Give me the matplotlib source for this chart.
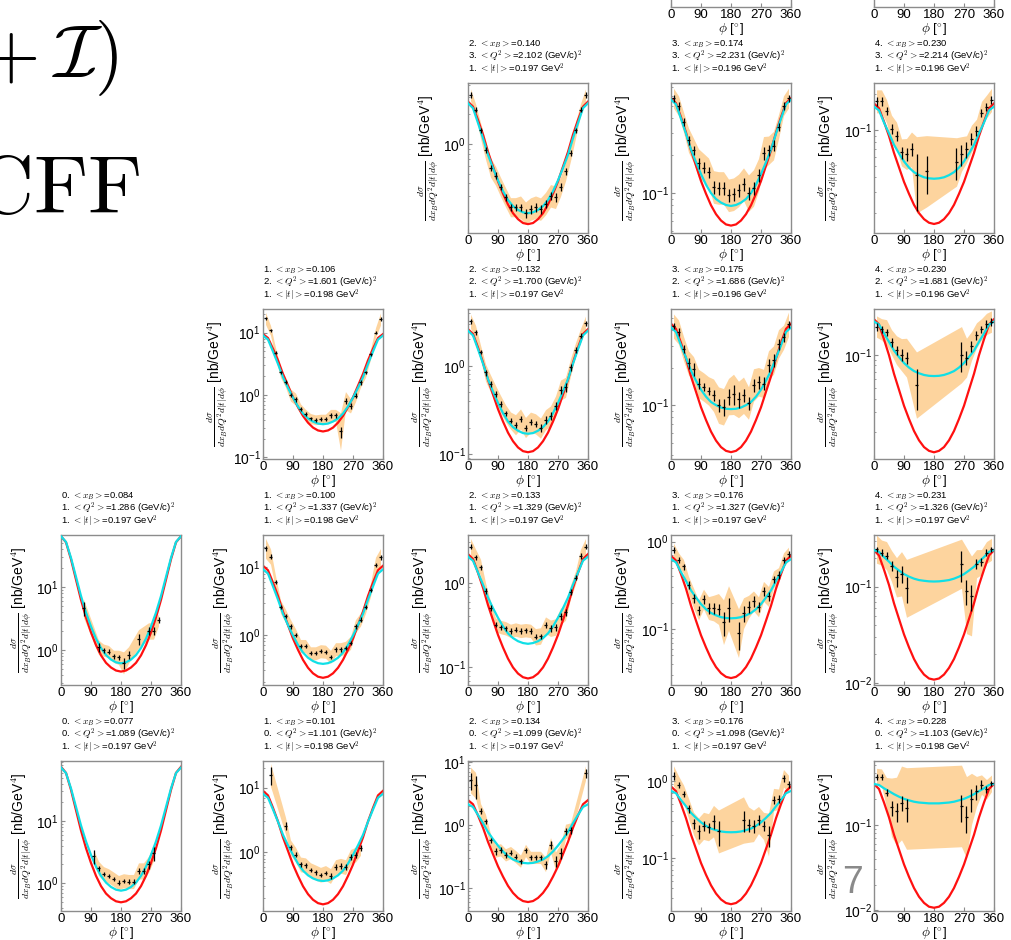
import matplotlib
matplotlib.use("Agg")
import matplotlib.pyplot as plt
from matplotlib.ticker import NullFormatter

plt.rcParams['font.family'] = ['Liberation Sans', 'DejaVu Sans']
plt.rcParams['mathtext.fontset'] = 'cm'

# model curves are read every 15 degrees
curve_phi = [0, 15, 30, 45, 60, 75, 90, 105, 120, 135, 150, 165, 180,
             195, 210, 225, 240, 255, 270, 285, 300, 315, 330, 345, 360]
phi_all = [7.5, 22.5, 37.5, 52.5, 67.5, 82.5, 97.5, 112.5, 127.5, 142.5, 157.5, 172.5,
           187.5, 202.5, 217.5, 232.5, 247.5, 262.5, 277.5, 292.5, 307.5, 322.5, 337.5, 352.5]

# ---- row 0 (Q2 bin 3) ----
lab_r0c2 = ("2", "0.140", "3", "2.102", "1", "0.197")
ylim_r0c2 = (0.126, 4.17)
bh_r0c2 = [2.7, 2.40, 1.76, 1.25, 0.835, 0.593, 0.42, 0.316, 0.245, 0.2, 0.174, 0.159, 0.155,
           0.159, 0.174, 0.2, 0.245, 0.316, 0.42, 0.593, 0.835, 1.25, 1.76, 2.40, 2.7]
fit_r0c2 = [2.6, 2.32, 1.64, 1.15, 0.78, 0.573, 0.43, 0.334, 0.272, 0.236, 0.216, 0.204, 0.2,
            0.204, 0.216, 0.236, 0.272, 0.334, 0.43, 0.573, 0.78, 1.15, 1.64, 2.32, 2.6]
phi_r0c2 = phi_all
y_r0c2 = [3.16, 2.24, 1.38, 0.88, 0.58, 0.48, 0.37, 0.29, 0.23, 0.23, 0.23, 0.2,
          0.22, 0.23, 0.22, 0.25, 0.30, 0.29, 0.37, 0.53, 0.81, 1.38, 2.24, 3.16]
err_r0c2 = [.06, .06, .06, .07, .07, .08, .08, .08, .08, .08, .08, .1,
            .1, .1, .1, .1, .1, .1, .1, .08, .07, .06, .06, .06]
band_r0c2 = [1.15, 1.15, 1.2, 1.25, 1.25, 1.25, 1.25, 1.25, 1.25, 1.25, 1.3, 1.3,
             1.3, 1.3, 1.3, 1.3, 1.3, 1.3, 1.25, 1.25, 1.2, 1.2, 1.15, 1.15]

lab_r0c3 = ("3", "0.174", "3", "2.231", "1", "0.196")
ylim_r0c3 = (0.048, 0.76)
bh_r0c3 = [0.575, 0.524, 0.405, 0.305, 0.22, 0.166, 0.125, 0.0989, 0.08, 0.0679, 0.0604, 0.0562, 0.055,
           0.0562, 0.0604, 0.0679, 0.08, 0.0989, 0.125, 0.166, 0.22, 0.305, 0.405, 0.524, 0.575]
fit_r0c3 = [0.56, 0.513, 0.394, 0.299, 0.223, 0.177, 0.142, 0.117, 0.1, 0.0897, 0.084, 0.0804, 0.079,
            0.0804, 0.084, 0.0897, 0.1, 0.117, 0.142, 0.177, 0.223, 0.299, 0.394, 0.513, 0.56]
phi_r0c3 = phi_all
y_r0c3 = [0.575, 0.50, 0.37, 0.265, 0.22, 0.174, 0.16, 0.147, 0.112, 0.11, 0.11, 0.096,
          0.098, 0.105, 0.118, 0.10, 0.11, 0.14, 0.21, 0.22, 0.24, 0.34, 0.5, 0.575]
err_r0c3 = [.06, .07, .07, .08, .08, .1, .1, .1, .12, .12, .12, .12,
            .12, .12, .12, .12, .12, .12, .12, .1, .1, .08, .07, .06]
band_r0c3 = [1.2, 1.2, 1.2, 1.25, 1.25, 1.3, 1.3, 1.3, 1.35, 1.35, 1.35, 1.35,
             1.35, 1.35, 1.35, 1.4, 1.4, 1.35, 1.35, 1.3, 1.3, 1.25, 1.2, 1.2]

lab_r0c4 = ("4", "0.230", "3", "2.214", "1", "0.196")
ylim_r0c4 = (0.0136, 0.25)
bh_r0c4 = [0.168, 0.153, 0.118, 0.0893, 0.0644, 0.0486, 0.0367, 0.0291, 0.0235, 0.02, 0.0178, 0.0166, 0.0162,
           0.0166, 0.0178, 0.02, 0.0235, 0.0291, 0.0367, 0.0486, 0.0644, 0.0893, 0.118, 0.153, 0.168]
fit_r0c4 = [0.158, 0.147, 0.116, 0.0942, 0.0754, 0.0637, 0.0546, 0.0484, 0.0443, 0.0418, 0.0401, 0.0393, 0.039,
            0.0393, 0.0401, 0.0418, 0.0443, 0.0484, 0.0546, 0.0637, 0.0754, 0.0942, 0.116, 0.147, 0.158]
phi_r0c4 = [7.5, 22.5, 37.5, 52.5, 67.5, 82.5, 97.5, 112.5, 127.5, 157.5,
            247.5, 262.5, 277.5, 292.5, 307.5, 322.5, 337.5, 352.5]
y_r0c4 = [0.175, 0.175, 0.145, 0.103, 0.09, 0.065, 0.063, 0.069, 0.042, 0.045,
          0.054, 0.063, 0.069, 0.085, 0.099, 0.14, 0.158, 0.18]
err_r0c4 = [.08, .08, .08, .1, .1, .12, .12, .12, .5, .35, .3, .2, .15, .12, .1, .08, .08, .08]
band_r0c4 = [1.25, 1.25, 1.25, 1.3, 1.3, 1.3, 1.35, 1.4, 2.1, 2.0, 1.6, 1.4, 1.3, 1.3, 1.25, 1.25, 1.25, 1.25]

# ---- row 1 (Q2 bin 2) ----
lab_r1c1 = ("1", "0.106", "2", "1.601", "1", "0.198")
ylim_r1c1 = (0.094, 24)
bh_r1c1 = [9.5, 8.22, 5.54, 3.60, 2.17, 1.41, 0.916, 0.64, 0.462, 0.36, 0.3, 0.27, 0.26,
           0.27, 0.3, 0.36, 0.462, 0.64, 0.916, 1.41, 2.17, 3.60, 5.54, 8.22, 9.5]
fit_r1c1 = [9.0, 7.76, 4.99, 3.15, 1.93, 1.30, 0.908, 0.655, 0.504, 0.42, 0.375, 0.348, 0.34,
            0.348, 0.375, 0.42, 0.504, 0.655, 0.908, 1.30, 1.93, 3.15, 4.99, 7.76, 9.0]
phi_r1c1 = phi_all
y_r1c1 = [17, 10.9, 4.8, 2.3, 1.6, 1.0, 0.86, 0.6, 0.49, 0.42, 0.40, 0.41,
          0.41, 0.47, 0.47, 0.26, 0.81, 0.67, 0.98, 1.6, 2.3, 4.5, 10, 16.6]
err_r1c1 = [.07, .06, .06, .06, .07, .08, .1, .08, .07, .07, .07, .07,
            .07, .08, .1, .2, .12, .1, .08, .08, .07, .06, .06, .07]
band_r1c1 = [1.25, 1.2, 1.2, 1.2, 1.2, 1.25, 1.25, 1.2, 1.2, 1.2, 1.2, 1.2,
             1.2, 1.25, 1.25, 2.0, 1.4, 1.3, 1.25, 1.2, 1.2, 1.2, 1.2, 1.25]

lab_r1c2 = ("2", "0.132", "2", "1.700", "1", "0.197")
ylim_r1c2 = (0.088, 4.4)
bh_r1c2 = [2.6, 2.29, 1.61, 1.09, 0.697, 0.474, 0.323, 0.234, 0.175, 0.14, 0.119, 0.108, 0.105,
           0.108, 0.119, 0.14, 0.175, 0.234, 0.323, 0.474, 0.697, 1.09, 1.61, 2.29, 2.6]
fit_r1c2 = [2.5, 2.21, 1.54, 1.06, 0.706, 0.512, 0.38, 0.291, 0.234, 0.202, 0.184, 0.173, 0.17,
            0.173, 0.184, 0.202, 0.234, 0.291, 0.38, 0.512, 0.706, 1.06, 1.54, 2.21, 2.5]
phi_r1c2 = phi_all
y_r1c2 = [3.2, 2.4, 1.43, 0.84, 0.63, 0.48, 0.37, 0.29, 0.24, 0.215, 0.25, 0.2,
          0.23, 0.22, 0.197, 0.245, 0.27, 0.35, 0.53, 0.57, 0.96, 1.52, 2.2, 3.04]
err_r1c2 = [.06, .06, .06, .08, .08, .08, .07, .07, .07, .07, .08, .08,
            .08, .08, .1, .1, .1, .1, .1, .12, .08, .07, .06, .06]
band_r1c2 = [1.2, 1.2, 1.2, 1.25, 1.25, 1.25, 1.25, 1.25, 1.25, 1.3, 1.3, 1.3,
             1.3, 1.3, 1.3, 1.3, 1.3, 1.3, 1.3, 1.3, 1.25, 1.2, 1.2, 1.2]

lab_r1c3 = ("3", "0.175", "2", "1.686", "1", "0.196")
ylim_r1c3 = (0.037, 0.59)
bh_r1c3 = [0.45, 0.409, 0.315, 0.237, 0.17, 0.128, 0.0962, 0.076, 0.0614, 0.052, 0.0461, 0.043, 0.042,
           0.043, 0.0461, 0.052, 0.0614, 0.076, 0.0962, 0.128, 0.17, 0.237, 0.315, 0.409, 0.45]
fit_r1c3 = [0.42, 0.386, 0.301, 0.24, 0.189, 0.157, 0.133, 0.117, 0.106, 0.1, 0.0957, 0.0935, 0.093,
            0.0935, 0.0957, 0.1, 0.106, 0.117, 0.133, 0.157, 0.189, 0.24, 0.301, 0.386, 0.42]
phi_r1c3 = phi_all
y_r1c3 = [0.43, 0.386, 0.284, 0.218, 0.196, 0.149, 0.14, 0.13, 0.12, 0.1, 0.097, 0.117,
          0.122, 0.111, 0.12, 0.104, 0.145, 0.154, 0.149, 0.21, 0.23, 0.31, 0.35, 0.445]
err_r1c3 = [.06, .07, .07, .1, .12, .1, .08, .08, .1, .12, .15, .15,
            .18, .15, .12, .12, .12, .12, .12, .12, .12, .1, .08, .06]
band_r1c3 = [1.25, 1.25, 1.25, 1.25, 1.25, 1.3, 1.3, 1.3, 1.35, 1.4, 1.4, 1.4,
             1.45, 1.4, 1.4, 1.35, 1.35, 1.3, 1.3, 1.3, 1.3, 1.3, 1.25, 1.25]

lab_r1c4 = ("4", "0.230", "2", "1.681", "1", "0.196")
ylim_r1c4 = (0.0113, 0.26)
bh_r1c4 = [0.21, 0.188, 0.138, 0.099, 0.0671, 0.0481, 0.0344, 0.0261, 0.0203, 0.0167, 0.0145, 0.0134, 0.013,
           0.0134, 0.0145, 0.0167, 0.0203, 0.0261, 0.0344, 0.0481, 0.0671, 0.099, 0.138, 0.188, 0.21]
fit_r1c4 = [0.2, 0.188, 0.156, 0.131, 0.109, 0.0953, 0.0841, 0.0764, 0.071, 0.0678, 0.0655, 0.0643, 0.064,
            0.0643, 0.0655, 0.0678, 0.071, 0.0764, 0.0841, 0.0953, 0.109, 0.131, 0.156, 0.188, 0.2]
phi_r1c4 = [7.5, 22.5, 37.5, 52.5, 67.5, 82.5, 97.5, 127.5,
            262.5, 277.5, 292.5, 307.5, 322.5, 337.5, 352.5]
y_r1c4 = [0.18, 0.17, 0.16, 0.13, 0.11, 0.10, 0.094, 0.053,
          0.1, 0.094, 0.12, 0.15, 0.17, 0.19, 0.2]
err_r1c4 = [.08, .08, .08, .1, .1, .12, .12, .4, .3, .15, .12, .1, .08, .08, .08]
band_r1c4 = [1.25, 1.25, 1.3, 1.3, 1.35, 1.4, 1.5, 2.0, 1.8, 1.5, 1.35, 1.3, 1.25, 1.25, 1.25]

# ---- row 2 (Q2 bin 1) ----
lab_r2c0 = ("0", "0.084", "1", "1.286", "1", "0.197")
ylim_r2c0 = (0.275, 68)
bh_r2c0 = [65, 52.0, 27.9, 13.2, 6.28, 3.29, 1.9, 1.19, 0.817, 0.621, 0.523, 0.468, 0.45,
           0.468, 0.523, 0.621, 0.817, 1.19, 1.9, 3.29, 6.28, 13.2, 27.9, 52.0, 65]
fit_r2c0 = [65, 52.7, 29.4, 14.6, 7.24, 3.94, 2.36, 1.51, 1.07, 0.826, 0.70, 0.632, 0.61,
            0.632, 0.70, 0.826, 1.07, 1.51, 2.36, 3.94, 7.24, 14.6, 29.4, 52.7, 65]
phi_r2c0 = [67.5, 112.5, 127.5, 142.5, 157.5, 172.5, 187.5, 202.5, 232.5, 262.5, 277.5, 292.5]
y_r2c0 = [4.6, 1.1, 0.99, 0.94, 0.79, 0.76, 0.62, 0.83, 1.5, 2.0, 2.0, 3.0]
err_r2c0 = [.25, .15, .1, .1, .1, .1, .2, .15, .2, .15, .15, .12]
band_r2c0 = [1.4, 1.3, 1.25, 1.25, 1.25, 1.3, 1.5, 1.35, 1.4, 1.35, 1.35, 1.25]

lab_r2c1 = ("1", "0.100", "1", "1.337", "1", "0.198")
ylim_r2c1 = (0.18, 30)
bh_r2c1 = [10.5, 9.02, 5.92, 3.74, 2.19, 1.39, 0.877, 0.598, 0.424, 0.324, 0.268, 0.239, 0.23,
           0.239, 0.268, 0.324, 0.424, 0.598, 0.877, 1.39, 2.19, 3.74, 5.92, 9.02, 10.5]
fit_r2c1 = [9.3, 8.04, 5.2, 3.31, 2.04, 1.39, 0.973, 0.705, 0.545, 0.456, 0.407, 0.379, 0.37,
            0.379, 0.407, 0.456, 0.545, 0.705, 0.973, 1.39, 2.04, 3.31, 5.2, 8.04, 9.3]
phi_r2c1 = phi_all
y_r2c1 = [19, 14.4, 6, 2.6, 1.9, 1.34, 0.98, 0.68, 0.68, 0.53, 0.53, 0.57,
          0.56, 0.47, 0.61, 0.61, 0.64, 0.76, 1.34, 1.68, 2.6, 4.6, 10.8, 14]
err_r2c1 = [.1, .08, .06, .07, .08, .08, .07, .07, .07, .07, .07, .07,
            .07, .07, .08, .08, .08, .08, .08, .08, .07, .07, .08, .1]
band_r2c1 = [1.4, 1.3, 1.25, 1.25, 1.25, 1.25, 1.25, 1.25, 1.25, 1.25, 1.25, 1.25,
             1.25, 1.25, 1.25, 1.25, 1.25, 1.25, 1.25, 1.25, 1.25, 1.25, 1.3, 1.35]

lab_r2c2 = ("2", "0.133", "1", "1.329", "1", "0.197")
ylim_r2c2 = (0.062, 3.66)
bh_r2c2 = [2.18, 1.90, 1.31, 0.873, 0.545, 0.362, 0.242, 0.172, 0.127, 0.1, 0.0847, 0.0766, 0.074,
           0.0766, 0.0847, 0.1, 0.127, 0.172, 0.242, 0.362, 0.545, 0.873, 1.31, 1.90, 2.18]
fit_r2c2 = [2.03, 1.82, 1.32, 0.95, 0.667, 0.501, 0.386, 0.305, 0.252, 0.222, 0.204, 0.194, 0.19,
            0.194, 0.204, 0.222, 0.252, 0.305, 0.386, 0.501, 0.667, 0.95, 1.32, 1.82, 2.03]
phi_r2c2 = phi_all
y_r2c2 = [2.66, 2.0, 1.52, 0.8, 0.5, 0.32, 0.30, 0.29, 0.27, 0.28, 0.27, 0.275,
          0.27, 0.23, 0.235, 0.316, 0.29, 0.30, 0.40, 0.45, 0.78, 1.15, 2.07, 2.66]
err_r2c2 = [.07, .07, .07, .08, .08, .07, .07, .07, .07, .07, .07, .07,
            .07, .07, .07, .08, .1, .1, .1, .1, .08, .07, .07, .07]
band_r2c2 = [1.25, 1.25, 1.25, 1.25, 1.2, 1.2, 1.2, 1.2, 1.2, 1.2, 1.2, 1.2,
             1.2, 1.25, 1.25, 1.25, 1.25, 1.25, 1.25, 1.25, 1.2, 1.2, 1.2, 1.25]

lab_r2c3 = ("3", "0.176", "1", "1.327", "1", "0.197")
ylim_r2c3 = (0.023, 1.19)
bh_r2c3 = [0.69, 0.607, 0.426, 0.29, 0.185, 0.125, 0.0851, 0.0618, 0.0462, 0.0369, 0.0314, 0.0285, 0.0276,
           0.0285, 0.0314, 0.0369, 0.0462, 0.0618, 0.0851, 0.125, 0.185, 0.29, 0.426, 0.607, 0.69]
fit_r2c3 = [0.63, 0.579, 0.448, 0.355, 0.277, 0.23, 0.193, 0.169, 0.153, 0.144, 0.137, 0.134, 0.133,
            0.134, 0.137, 0.144, 0.153, 0.169, 0.193, 0.23, 0.277, 0.355, 0.448, 0.579, 0.63]
phi_r2c3 = [7.5, 22.5, 37.5, 52.5, 67.5, 82.5, 97.5, 112.5, 127.5, 142.5, 157.5, 172.5,
            202.5, 217.5, 232.5, 247.5, 262.5, 277.5, 292.5, 307.5, 322.5, 337.5, 352.5]
y_r2c3 = [0.80, 0.62, 0.52, 0.32, 0.226, 0.166, 0.22, 0.174, 0.174, 0.17, 0.12, 0.174,
          0.09, 0.152, 0.18, 0.21, 0.18, 0.27, 0.236, 0.37, 0.42, 0.62, 0.72]
err_r2c3 = [.08, .08, .08, .1, .12, .12, .12, .15, .15, .15, .3, .3,
            .35, .2, .15, .15, .12, .12, .12, .1, .1, .08, .08]
band_r2c3 = [1.2, 1.2, 1.2, 1.25, 1.3, 1.3, 1.3, 1.35, 1.4, 1.5, 1.8, 1.8,
             1.9, 1.5, 1.35, 1.3, 1.3, 1.3, 1.3, 1.25, 1.2, 1.2, 1.2]

lab_r2c4 = ("4", "0.231", "1", "1.326", "1", "0.197")
ylim_r2c4 = (0.0095, 0.344)
bh_r2c4 = [0.239, 0.211, 0.15, 0.104, 0.0671, 0.0462, 0.0319, 0.0234, 0.0177, 0.0143, 0.0122, 0.0111, 0.0108,
           0.0111, 0.0122, 0.0143, 0.0177, 0.0234, 0.0319, 0.0462, 0.0671, 0.104, 0.15, 0.211, 0.239]
fit_r2c4 = [0.24, 0.23, 0.203, 0.182, 0.161, 0.147, 0.135, 0.127, 0.121, 0.117, 0.115, 0.1135, 0.113,
            0.1135, 0.115, 0.117, 0.121, 0.127, 0.135, 0.147, 0.161, 0.182, 0.203, 0.23, 0.24]
phi_r2c4 = [7.5, 22.5, 37.5, 52.5, 67.5, 82.5, 97.5,
            262.5, 277.5, 292.5, 307.5, 322.5, 337.5, 352.5]
y_r2c4 = [0.245, 0.226, 0.21, 0.164, 0.125, 0.136, 0.096,
          0.173, 0.091, 0.08, 0.173, 0.18, 0.226, 0.244]
err_r2c4 = [.06, .08, .08, .12, .2, .2, .3, .35, .3, .3, .12, .1, .08, .06]
band_r2c4 = [1.4, 1.35, 1.4, 1.45, 1.6, 1.7, 2.0, 1.8, 2.8, 2.6, 1.4, 1.35, 1.3, 1.3]

# ---- row 3 (Q2 bin 0) ----
lab_r3c0 = ("0", "0.077", "0", "1.089", "1", "0.197")
ylim_r3c0 = (0.355, 93)
bh_r3c0 = [75, 59.8, 31.9, 15.0, 7.05, 3.66, 2.11, 1.31, 0.895, 0.679, 0.57, 0.509, 0.49,
           0.509, 0.57, 0.679, 0.895, 1.31, 2.11, 3.66, 7.05, 15.0, 31.9, 59.8, 75]
fit_r3c0 = [73, 59.4, 33.6, 16.9, 8.51, 4.70, 2.84, 1.84, 1.31, 1.02, 0.867, 0.783, 0.755,
            0.783, 0.867, 1.02, 1.31, 1.84, 2.84, 4.70, 8.51, 16.9, 33.6, 59.4, 73]
phi_r3c0 = [97.5, 112.5, 127.5, 142.5, 157.5, 172.5, 187.5, 202.5, 217.5, 232.5, 247.5, 262.5, 277.5]
y_r3c0 = [2.7, 1.73, 1.42, 1.31, 1.16, 1.02, 1.09, 1.06, 1.06, 1.57, 1.57, 2.0, 3.07]
err_r3c0 = [.25, .1, .08, .08, .08, .08, .08, .08, .08, .12, .12, .15, .25]
band_r3c0 = [1.3, 1.3, 1.3, 1.3, 1.3, 1.3, 1.3, 1.3, 1.3, 1.35, 1.35, 1.35, 1.35]

lab_r3c1 = ("1", "0.101", "0", "1.101", "1", "0.198")
ylim_r3c1 = (0.124, 25.7)
bh_r3c1 = [8.9, 7.57, 4.85, 2.99, 1.70, 1.05, 0.646, 0.431, 0.299, 0.226, 0.185, 0.164, 0.157,
           0.164, 0.185, 0.226, 0.299, 0.431, 0.646, 1.05, 1.70, 2.99, 4.85, 7.57, 8.9]
fit_r3c1 = [8.0, 6.95, 4.58, 2.96, 1.86, 1.28, 0.912, 0.668, 0.522, 0.441, 0.395, 0.369, 0.36,
            0.369, 0.395, 0.441, 0.522, 0.668, 0.912, 1.28, 1.86, 2.96, 4.58, 6.95, 8.0]
phi_r3c1 = [22.5, 67.5, 82.5, 97.5, 112.5, 127.5, 142.5, 157.5, 172.5,
            187.5, 202.5, 217.5, 232.5, 247.5, 262.5, 277.5, 292.5]
y_r3c1 = [15.7, 2.57, 1.19, 0.92, 0.65, 0.63, 0.53, 0.49, 0.45,
          0.48, 0.43, 0.59, 0.62, 0.59, 0.85, 0.92, 1.17]
err_r3c1 = [.3, .15, .1, .08, .08, .08, .08, .08, .08, .08, .1, .1, .1, .1, .12, .1, .1]
band_r3c1 = [1.5, 1.35, 1.3, 1.3, 1.3, 1.3, 1.3, 1.3, 1.3, 1.3, 1.3, 1.3, 1.3, 1.3, 1.3, 1.3, 1.3]

lab_r3c2 = ("2", "0.134", "0", "1.099", "1", "0.197")
ylim_r3c2 = (0.044, 10.4)
bh_r3c2 = [2.5, 2.15, 1.43, 0.916, 0.546, 0.349, 0.224, 0.154, 0.11, 0.0851, 0.0708, 0.0632, 0.061,
           0.0632, 0.0708, 0.0851, 0.11, 0.154, 0.224, 0.349, 0.546, 0.916, 1.43, 2.15, 2.5]
fit_r3c2 = [2.15, 1.95, 1.46, 1.08, 0.782, 0.604, 0.477, 0.385, 0.324, 0.288, 0.267, 0.254, 0.25,
            0.254, 0.267, 0.288, 0.324, 0.385, 0.477, 0.604, 0.782, 1.08, 1.46, 1.95, 2.15]
phi_r3c2 = [7.5, 22.5, 37.5, 52.5, 67.5, 82.5, 97.5, 112.5, 127.5, 142.5, 157.5, 172.5,
            187.5, 202.5, 217.5, 232.5, 247.5, 262.5, 277.5, 292.5, 307.5, 352.5]
y_r3c2 = [5.2, 4.3, 1.7, 1.15, 0.58, 0.39, 0.41, 0.34, 0.37, 0.32, 0.27, 0.40,
          0.31, 0.31, 0.31, 0.24, 0.49, 0.27, 0.36, 0.8, 0.84, 6.7]
err_r3c2 = [.3, .4, .1, .1, .1, .12, .1, .1, .1, .1, .1, .1,
            .1, .1, .1, .15, .15, .2, .2, .12, .12, .15]
band_r3c2 = [1.6, 1.6, 1.3, 1.3, 1.25, 1.25, 1.25, 1.25, 1.25, 1.25, 1.25, 1.25,
             1.25, 1.25, 1.25, 1.3, 1.3, 1.4, 1.4, 1.3, 1.3, 1.3]

lab_r3c3 = ("3", "0.176", "0", "1.098", "1", "0.197")
ylim_r3c3 = (0.0204, 1.81)
bh_r3c3 = [0.845, 0.735, 0.499, 0.327, 0.2, 0.131, 0.0857, 0.0603, 0.044, 0.0344, 0.0288, 0.0259, 0.025,
           0.0259, 0.0288, 0.0344, 0.044, 0.0603, 0.0857, 0.131, 0.2, 0.327, 0.499, 0.735, 0.845]
fit_r3c3 = [0.74, 0.69, 0.564, 0.468, 0.384, 0.331, 0.289, 0.26, 0.24, 0.229, 0.22, 0.216, 0.215,
            0.216, 0.22, 0.229, 0.24, 0.26, 0.289, 0.331, 0.384, 0.468, 0.564, 0.69, 0.74]
phi_r3c3 = [7.5, 22.5, 37.5, 52.5, 67.5, 82.5, 97.5, 112.5, 127.5, 142.5,
            217.5, 232.5, 247.5, 262.5, 277.5, 292.5, 307.5, 322.5, 337.5, 352.5]
y_r3c3 = [1.16, 0.89, 0.68, 0.44, 0.28, 0.22, 0.26, 0.25, 0.30, 0.22,
          0.31, 0.27, 0.26, 0.31, 0.26, 0.20, 0.57, 0.58, 1.08, 0.91]
err_r3c3 = [.12, .1, .1, .12, .15, .2, .15, .15, .2, .35, .3, .2, .2, .15, .15, .3, .12, .12, .1, .1]
band_r3c3 = [1.35, 1.3, 1.3, 1.35, 1.4, 1.5, 1.5, 1.5, 1.6, 1.9, 2.0, 1.7, 1.6, 1.5, 1.5, 1.9, 1.4, 1.35, 1.3, 1.3]

lab_r3c4 = ("4", "0.228", "0", "1.103", "1", "0.198")
ylim_r3c4 = (0.0098, 0.557)
bh_r3c4 = [0.3, 0.262, 0.182, 0.122, 0.0764, 0.0513, 0.0344, 0.0246, 0.0182, 0.0144, 0.0122, 0.011, 0.0107,
           0.011, 0.0122, 0.0144, 0.0182, 0.0246, 0.0344, 0.0513, 0.0764, 0.122, 0.182, 0.262, 0.3]
fit_r3c4 = [0.3, 0.292, 0.267, 0.247, 0.228, 0.213, 0.201, 0.193, 0.186, 0.182, 0.18, 0.178, 0.178,
            0.178, 0.18, 0.182, 0.186, 0.193, 0.201, 0.213, 0.228, 0.247, 0.267, 0.292, 0.3]
phi_r3c4 = [7.5, 22.5, 37.5, 52.5, 67.5, 82.5, 97.5,
            262.5, 277.5, 292.5, 307.5, 322.5, 337.5, 352.5]
y_r3c4 = [0.366, 0.36, 0.238, 0.16, 0.144, 0.18, 0.155,
          0.166, 0.122, 0.2, 0.245, 0.295, 0.26, 0.305]
err_r3c4 = [.08, .08, .1, .2, .25, .2, .3, .35, .35, .3, .2, .12, .1, .08]
band_r3c4 = [1.25, 1.25, 1.5, 2.2, 2.5, 2.7, 3.0, 3.0, 3.0, 2.0, 1.5, 1.3, 1.3, 1.25]

panels = [
    (0, 2, lab_r0c2, ylim_r0c2, bh_r0c2, fit_r0c2, phi_r0c2, y_r0c2, err_r0c2, band_r0c2),
    (0, 3, lab_r0c3, ylim_r0c3, bh_r0c3, fit_r0c3, phi_r0c3, y_r0c3, err_r0c3, band_r0c3),
    (0, 4, lab_r0c4, ylim_r0c4, bh_r0c4, fit_r0c4, phi_r0c4, y_r0c4, err_r0c4, band_r0c4),
    (1, 1, lab_r1c1, ylim_r1c1, bh_r1c1, fit_r1c1, phi_r1c1, y_r1c1, err_r1c1, band_r1c1),
    (1, 2, lab_r1c2, ylim_r1c2, bh_r1c2, fit_r1c2, phi_r1c2, y_r1c2, err_r1c2, band_r1c2),
    (1, 3, lab_r1c3, ylim_r1c3, bh_r1c3, fit_r1c3, phi_r1c3, y_r1c3, err_r1c3, band_r1c3),
    (1, 4, lab_r1c4, ylim_r1c4, bh_r1c4, fit_r1c4, phi_r1c4, y_r1c4, err_r1c4, band_r1c4),
    (2, 0, lab_r2c0, ylim_r2c0, bh_r2c0, fit_r2c0, phi_r2c0, y_r2c0, err_r2c0, band_r2c0),
    (2, 1, lab_r2c1, ylim_r2c1, bh_r2c1, fit_r2c1, phi_r2c1, y_r2c1, err_r2c1, band_r2c1),
    (2, 2, lab_r2c2, ylim_r2c2, bh_r2c2, fit_r2c2, phi_r2c2, y_r2c2, err_r2c2, band_r2c2),
    (2, 3, lab_r2c3, ylim_r2c3, bh_r2c3, fit_r2c3, phi_r2c3, y_r2c3, err_r2c3, band_r2c3),
    (2, 4, lab_r2c4, ylim_r2c4, bh_r2c4, fit_r2c4, phi_r2c4, y_r2c4, err_r2c4, band_r2c4),
    (3, 0, lab_r3c0, ylim_r3c0, bh_r3c0, fit_r3c0, phi_r3c0, y_r3c0, err_r3c0, band_r3c0),
    (3, 1, lab_r3c1, ylim_r3c1, bh_r3c1, fit_r3c1, phi_r3c1, y_r3c1, err_r3c1, band_r3c1),
    (3, 2, lab_r3c2, ylim_r3c2, bh_r3c2, fit_r3c2, phi_r3c2, y_r3c2, err_r3c2, band_r3c2),
    (3, 3, lab_r3c3, ylim_r3c3, bh_r3c3, fit_r3c3, phi_r3c3, y_r3c3, err_r3c3, band_r3c3),
    (3, 4, lab_r3c4, ylim_r3c4, bh_r3c4, fit_r3c4, phi_r3c4, y_r3c4, err_r3c4, band_r3c4),
]

W, H = 1011, 940
col_left = [61, 263, 468, 671, 874]
row_top = [83, 309, 535, 761]
AW, AH = 120, 150
spine_col = '#8c8c8c'

fig = plt.figure(figsize=(W / 100, H / 100), dpi=100)


def new_axes(left, top):
    ax = fig.add_axes([left / W, 1 - (top + AH) / H, AW / W, AH / H])
    for sp in ax.spines.values():
        sp.set_color(spine_col)
        sp.set_linewidth(1.0)
    ax.set_xlim(0, 360)
    ax.set_xticks([0, 90, 180, 270, 360])
    ax.tick_params(axis='both', which='both', direction='in', colors=spine_col,
                   labelcolor='black', pad=1.5)
    ax.tick_params(axis='x', labelsize=9.5)
    ax.tick_params(axis='y', labelsize=10)
    ax.tick_params(which='major', length=3)
    ax.tick_params(which='minor', length=1.5)
    ax.set_xlabel(r'$\phi$ [$^{\circ}$]', fontsize=9.5, labelpad=0)
    return ax


# the cut-off row at the very top of the slide
for c in (3, 4):
    ax = new_axes(col_left[c], -143)
    ax.set_yticks([])

for r, c, lab, ylim, bh, fit, phi, y, err, band in panels:
    ax = new_axes(col_left[c], row_top[r])
    ax.set_yscale('log')
    ax.set_ylim(*ylim)
    ax.yaxis.set_minor_formatter(NullFormatter())

    lo = [v / f for v, f in zip(y, band)]
    hi = [v * f for v, f in zip(y, band)]
    ax.fill_between(phi, lo, hi, color='#fdd49e', lw=0, zorder=1)
    ax.plot(curve_phi, bh, color='#ff1010', lw=1.6, zorder=2)
    ax.plot(curve_phi, fit, color='#10dfe6', lw=1.6, zorder=3)
    yerr = [v * e for v, e in zip(y, err)]
    ax.errorbar(phi, y, yerr=yerr, xerr=5, fmt='none', ecolor='black',
                elinewidth=0.9, capsize=0, zorder=4)

    ax.set_ylabel(r'$\frac{d\sigma}{dx_BdQ^2d|t|d\phi}$ [nb/GeV$^4$]', fontsize=10, labelpad=2)

    ix, xb, iq, q2, it, tt = lab
    lines = [f'{ix}. $<x_B>$={xb}',
             f'{iq}. $<Q^2>$={q2} (GeV/c)$^2$',
             f'{it}. $<|t|>$={tt} GeV$^2$']
    for k, txt in enumerate(lines):
        ax.text(0.0, 1 + (37 - 13.2 * k) / AH, txt, transform=ax.transAxes,
                ha='left', va='baseline', fontsize=6.8)

# slide text cut off at the left edge
fig.text(118 / W, 1 - 58 / H, r'$(\mathcal{BH}+\mathcal{I})$', ha='right', va='center', fontsize=54)
fig.text(140 / W, 1 - 191 / H, r'$\mathrm{CFF}$', ha='right', va='center', fontsize=60)
fig.text(853 / W, 1 - 883 / H, '7', color='#8a8a8a', fontsize=27, ha='center', va='center', zorder=20)

fig.savefig('out.png', dpi=100)
